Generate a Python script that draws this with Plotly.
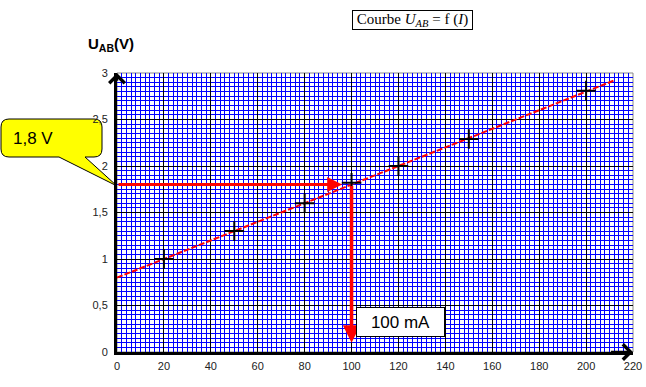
import plotly.graph_objects as go

# ---- data ----
I_meas = [20, 50, 80, 100, 120, 150, 200]          # mA
U_meas = [1.0, 1.3, 1.6, 1.82, 2.0, 2.29, 2.81]     # V
fit_I = [0, 212]
fit_U = [0.8, 2.92]
I_read = 100
U_read = 1.8
x_tickvals = list(range(0, 221, 20))
x_ticktext = [str(v) for v in x_tickvals]
y_tickvals = [0, 0.5, 1, 1.5, 2, 2.5, 3]
y_ticktext = ["0", "0,5", "1", "1,5", "2", "2,5", "3"]

W, H = 646, 387
L, R, T, B = 117, 13, 73, 35
PW, PH = W - L - R, H - T - B


def px(xp):
    return (xp - L) / PW


def py(yp):
    return (H - B - yp) / PH


fig = go.Figure()

fig.add_trace(go.Scatter(
    x=fit_I, y=fit_U, mode="lines",
    line=dict(color="#ff0000", width=2, dash="6px,2px"),
    hoverinfo="skip", showlegend=False))

fig.add_trace(go.Scatter(
    x=I_meas, y=U_meas, mode="markers",
    marker=dict(symbol="cross-thin", size=14, line=dict(color="black", width=2)),
    showlegend=False))

# callout shape (yellow bubble)
r = 8
x0, x1, y0, y1 = 1, 102, 119, 157
path = (
    f"M {px(x0 + r)},{py(y0)} L {px(x1 - r)},{py(y0)} "
    f"Q {px(x1)},{py(y0)} {px(x1)},{py(y0 + r)} "
    f"L {px(x1)},{py(y1 - r)} Q {px(x1)},{py(y1)} {px(x1 - r)},{py(y1)} "
    f"L {px(85)},{py(y1)} L {px(117)},{py(186)} L {px(59)},{py(y1)} "
    f"L {px(x0 + r)},{py(y1)} Q {px(x0)},{py(y1)} {px(x0)},{py(y1 - r)} "
    f"L {px(x0)},{py(y0 + r)} Q {px(x0)},{py(y0)} {px(x0 + r)},{py(y0)} Z"
)
fig.add_shape(type="path", path=path, xref="paper", yref="paper",
              fillcolor="#ffff00", line=dict(color="black", width=1), layer="below")

# thin frame of plot area
fig.add_shape(type="rect", xref="paper", yref="paper", x0=0, x1=1, y0=0, y1=1,
              line=dict(color="#888888", width=1), layer="below")

ann = []
# red reading arrows
ann.append(dict(x=96, y=U_read, ax=0, ay=U_read, xref="x", yref="y", axref="x", ayref="y",
                showarrow=True, arrowhead=2, arrowsize=1, arrowwidth=3, arrowcolor="#ff0000",
                text="", standoff=0, startstandoff=0))
ann.append(dict(x=I_read, y=0.1, ax=I_read, ay=U_read, xref="x", yref="y", axref="x", ayref="y",
                showarrow=True, arrowhead=2, arrowsize=1, arrowwidth=3.5, arrowcolor="#ff0000",
                text="", standoff=0, startstandoff=0))
# axis arrowheads
ann.append(dict(x=0, y=3, ax=0, ay=2.9, xref="x", yref="y", axref="x", ayref="y",
                showarrow=True, arrowhead=4, arrowsize=1.2, arrowwidth=2.5, arrowcolor="black",
                text="", standoff=0))
ann.append(dict(x=220, y=0, ax=210, ay=0, xref="x", yref="y", axref="x", ayref="y",
                showarrow=True, arrowhead=4, arrowsize=1.2, arrowwidth=2.5, arrowcolor="black",
                text="", standoff=0))
# texts
ann.append(dict(x=px(32.5), y=py(138), xref="paper", yref="paper", showarrow=False,
                xanchor="center", yanchor="middle",
                text="1,8 V", font=dict(family="Liberation Sans, Arial", size=17, color="black")))
ann.append(dict(x=px(400.5), y=py(322), xref="paper", yref="paper", showarrow=False,
                xanchor="center", yanchor="middle",
                text="100 mA", font=dict(family="Liberation Sans, Arial", size=17, color="black"),
                bgcolor="white", bordercolor="black", borderwidth=1, borderpad=0,
                width=87, height=28))
ann.append(dict(x=px(111), y=py(45), xref="paper", yref="paper", showarrow=False,
                xanchor="center", yanchor="middle",
                text="<b>U<sub>AB</sub>(V)</b>",
                font=dict(family="Liberation Sans, Arial", size=15, color="black")))
ann.append(dict(x=px(412.5), y=py(19.5), xref="paper", yref="paper", showarrow=False,
                xanchor="center", yanchor="middle",
                text="Courbe <i>U</i><sub><i>AB</i></sub> = f (<i>I</i>)",
                font=dict(family="Liberation Serif, Times New Roman", size=15, color="black"),
                bgcolor="white", bordercolor="black", borderwidth=1, borderpad=0,
                width=119, height=18))

fig.update_layout(
    width=W, height=H,
    margin=dict(l=L, r=R, t=T, b=B, autoexpand=False),
    paper_bgcolor="white", plot_bgcolor="white",
    showlegend=False,
    annotations=ann,
    xaxis=dict(range=[0, 220], tickmode="array", tickvals=x_tickvals, ticktext=x_ticktext,
               automargin=False,
               showgrid=True, gridcolor="black", gridwidth=1,
               minor=dict(dtick=2, tick0=0, showgrid=True, gridcolor="#0000ff", gridwidth=1.2),
               showline=True, linecolor="black", linewidth=3, zeroline=False,
               ticks="", ticklabelstandoff=2,
               tickfont=dict(family="Liberation Sans, Arial", size=11, color="#222222")),
    yaxis=dict(range=[0, 3], tickmode="array", tickvals=y_tickvals, ticktext=y_ticktext,
               automargin=False,
               showgrid=True, gridcolor="black", gridwidth=1,
               minor=dict(dtick=0.05, tick0=0, showgrid=True, gridcolor="#0000ff", gridwidth=1.2),
               showline=True, linecolor="black", linewidth=3, zeroline=False,
               ticks="", ticklabelstandoff=4,
               tickfont=dict(family="Liberation Sans, Arial", size=11, color="#222222")),
)

fig.write_html("out.html", config={"displayModeBar": False},
               post_script="document.body.style.margin='0';document.body.style.overflow='hidden';")
